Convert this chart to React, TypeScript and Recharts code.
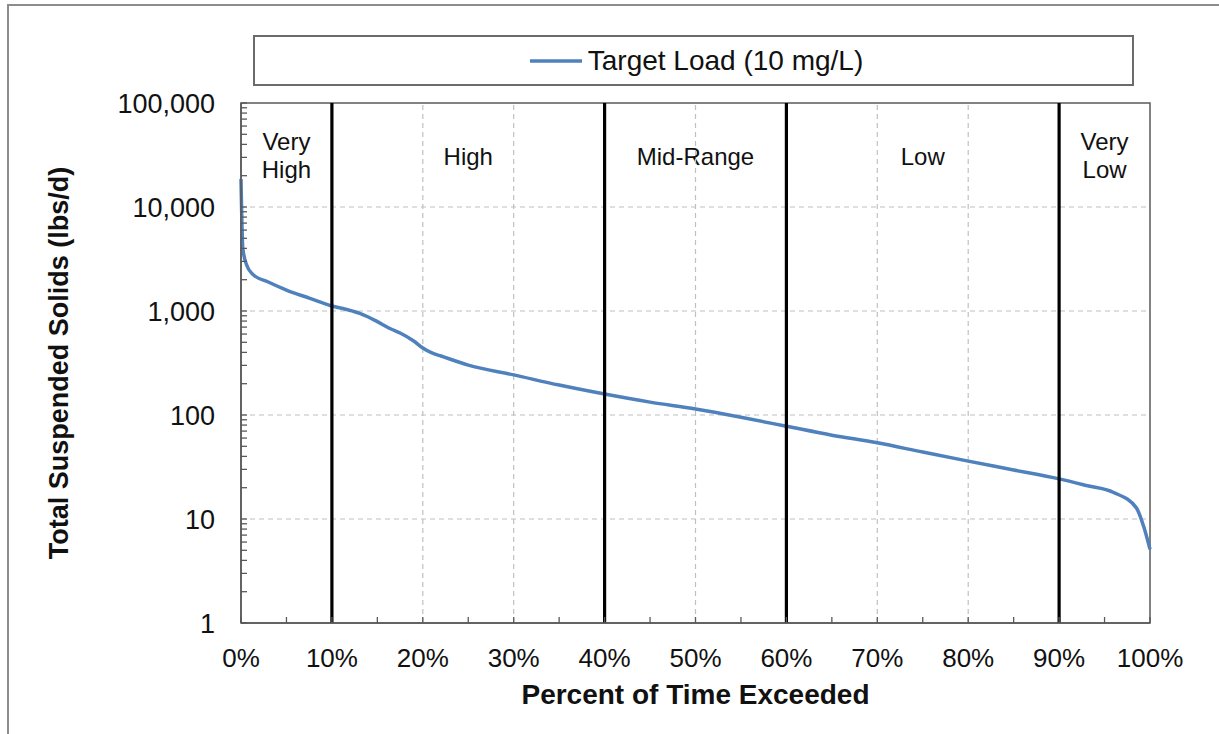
import {
  Legend,
  Line,
  LineChart,
  ReferenceArea,
  ReferenceLine,
  XAxis,
  YAxis,
} from "recharts";

// Load duration curve (percent exceeded vs lbs/d).
const PCT_EXCEEDED = [
  0, 0.2, 0.6, 1.3, 3, 5, 7.5, 10, 11.5, 13, 14, 15, 16.5, 17.5, 19, 20, 21, 22, 25, 30, 35, 40,
  45, 50, 55, 60, 65, 70, 75, 80, 85, 90, 93, 96, 98.5, 99.3, 100,
];
const TARGET_LOAD = [
  18600, 4000, 2800, 2250, 1900, 1590, 1330, 1117, 1040, 955, 876, 790, 671, 614, 515, 441, 395,
  369, 302, 243, 194, 159, 133, 114, 95, 78, 64, 54, 44, 36, 29.6, 24.3, 21, 18, 12.8, 8.5, 5.1,
];

// Flow zones
const ZONE_BOUNDS = [0, 10, 40, 60, 90, 100];
const ZONE_NAMES = [["Very", "High"], ["High"], ["Mid-Range"], ["Low"], ["Very", "Low"]];

const X_TICKS = [0, 5, 10, 15, 20, 25, 30, 35, 40, 45, 50, 55, 60, 65, 70, 75, 80, 85, 90, 95, 100];
const X_GRID = [10, 20, 30, 50, 70, 80];
const DECADES = [1, 10, 100, 1000, 10000, 100000];
const Y_GRID = [10, 100, 1000, 10000];

const Y_TICKS = DECADES.flatMap((d, i) =>
  i === DECADES.length - 1 ? [d] : [1, 2, 3, 4, 5, 6, 7, 8, 9].map((m) => m * d)
);

const data = PCT_EXCEEDED.map((pct, i) => ({ pct, load: TARGET_LOAD[i] }));

const FONT = '"Liberation Sans", Arial, sans-serif';
const TEXT = "#111";
const AXIS = "#595959";
const BLUE = "#4f81bd";

function XTick(props: any) {
  const { x, y, payload } = props;
  const major = payload.value % 10 === 0;
  return (
    <g>
      <line x1={x} x2={x} y1={y} y2={y - 6} stroke={AXIS} strokeWidth={1.3} />
      {major && (
        <text x={x} y={y + 44} textAnchor="middle" fontSize={26} fontFamily={FONT} fill={TEXT}>
          {payload.value}%
        </text>
      )}
    </g>
  );
}

function YTick(props: any) {
  const { x, y, payload } = props;
  const major = DECADES.includes(payload.value);
  return (
    <g>
      <line x1={x} x2={x + 6} y1={y} y2={y} stroke={AXIS} strokeWidth={1.3} />
      {major && (
        <text x={x - 26} y={y + 10} textAnchor="end" fontSize={27} fontFamily={FONT} fill={TEXT}>
          {payload.value.toLocaleString("en-US")}
        </text>
      )}
    </g>
  );
}

function ZoneLabel(lines: string[]) {
  return (props: any) => {
    const vb = props.viewBox;
    const cx = vb.x + vb.width / 2;
    const first = lines.length === 2 ? vb.y + 47 : vb.y + 62;
    return (
      <text textAnchor="middle" fontSize={24} fontFamily={FONT} fill={TEXT}>
        {lines.map((t, i) => (
          <tspan key={t + i} x={cx} y={first + i * 28}>
            {t}
          </tspan>
        ))}
      </text>
    );
  };
}

function LegendBox() {
  return (
    <div
      style={{
        boxSizing: "border-box",
        width: 881,
        height: 51,
        border: "2px solid #6b6b6b",
        display: "flex",
        alignItems: "center",
        justifyContent: "center",
        gap: 6,
        fontFamily: FONT,
        fontSize: 28,
        color: TEXT,
        paddingLeft: 6,
      }}
    >
      <svg width={52} height={6}>
        <line x1={0} x2={52} y1={3} y2={3} stroke={BLUE} strokeWidth={3.5} />
      </svg>
      <span>Target Load (10 mg/L)</span>
    </div>
  );
}

export default function App() {
  return (
    <div
      style={{
        position: "fixed",
        left: 0,
        top: 0,
        width: 1219,
        height: 734,
        overflow: "hidden",
        background: "#fff",
      }}
    >
      <div
        style={{
          position: "absolute",
          left: 7,
          top: 4,
          width: 1260,
          height: 780,
          border: "2px solid #8c8c8c",
        }}
      />
      <div style={{ position: "absolute", left: 0, top: 0 }}>
        <LineChart
          width={1219}
          height={734}
          data={data}
          margin={{ top: 103, right: 69, bottom: 71, left: 161 }}
        >
          {X_GRID.map((v) => (
            <ReferenceLine key={"xg" + v} x={v} stroke="#c0c0c0" strokeDasharray="5 4" strokeWidth={1.2} />
          ))}
          {Y_GRID.map((v) => (
            <ReferenceLine key={"yg" + v} y={v} stroke="#c0c0c0" strokeDasharray="5 4" strokeWidth={1.2} />
          ))}
          <XAxis
            dataKey="pct"
            type="number"
            domain={[0, 100]}
            ticks={X_TICKS}
            interval={0}
            height={40}
            tickSize={0}
            tickMargin={0}
            axisLine={{ stroke: AXIS, strokeWidth: 1.5 }}
            tickLine={false}
            tick={(p: any) => <XTick {...p} />}
            label={{
              content: (p: any) => (
                <text
                  x={p.viewBox.x + p.viewBox.width / 2}
                  y={p.viewBox.y + 81}
                  textAnchor="middle"
                  fontSize={28}
                  fontWeight="bold"
                  fontFamily={FONT}
                  fill={TEXT}
                >
                  Percent of Time Exceeded
                </text>
              ),
            }}
          />
          <YAxis
            type="number"
            scale="log"
            domain={[1, 100000]}
            allowDataOverflow
            ticks={Y_TICKS}
            interval={0}
            width={80}
            tickSize={0}
            tickMargin={0}
            axisLine={{ stroke: AXIS, strokeWidth: 1.5 }}
            tickLine={false}
            tick={(p: any) => <YTick {...p} />}
            label={{
              content: (p: any) => {
                const cy = p.viewBox.y + p.viewBox.height / 2;
                return (
                  <text
                    x={59}
                    y={cy}
                    transform={`rotate(-90 59 ${cy})`}
                    textAnchor="middle"
                    dominantBaseline="central"
                    fontSize={27}
                    fontWeight="bold"
                    fontFamily={FONT}
                    fill={TEXT}
                  >
                    Total Suspended Solids (lbs/d)
                  </text>
                );
              },
            }}
          />
          <ReferenceArea
            x1={0}
            x2={100}
            y1={1}
            y2={100000}
            fill="none"
            stroke={AXIS}
            strokeWidth={1.5}
          />
          <Legend
            layout="vertical"
            verticalAlign="middle"
            align="center"
            wrapperStyle={{ left: 253, top: 35, width: 881, height: 51 }}
            content={() => <LegendBox />}
          />
          <Line
            dataKey="load"
            name="Target Load (10 mg/L)"
            type="monotone"
            stroke={BLUE}
            strokeWidth={3.5}
            dot={false}
            isAnimationActive={false}
          />
          {ZONE_BOUNDS.slice(1, -1).map((v) => (
            <ReferenceLine key={"zb" + v} x={v} stroke="#000" strokeWidth={3.2} />
          ))}
          {ZONE_NAMES.map((lines, i) => (
            <ReferenceArea
              key={"zn" + i}
              x1={ZONE_BOUNDS[i]}
              x2={ZONE_BOUNDS[i + 1]}
              y1={1}
              y2={100000}
              fill="none"
              stroke="none"
              label={ZoneLabel(lines)}
            />
          ))}
        </LineChart>
      </div>
    </div>
  );
}
